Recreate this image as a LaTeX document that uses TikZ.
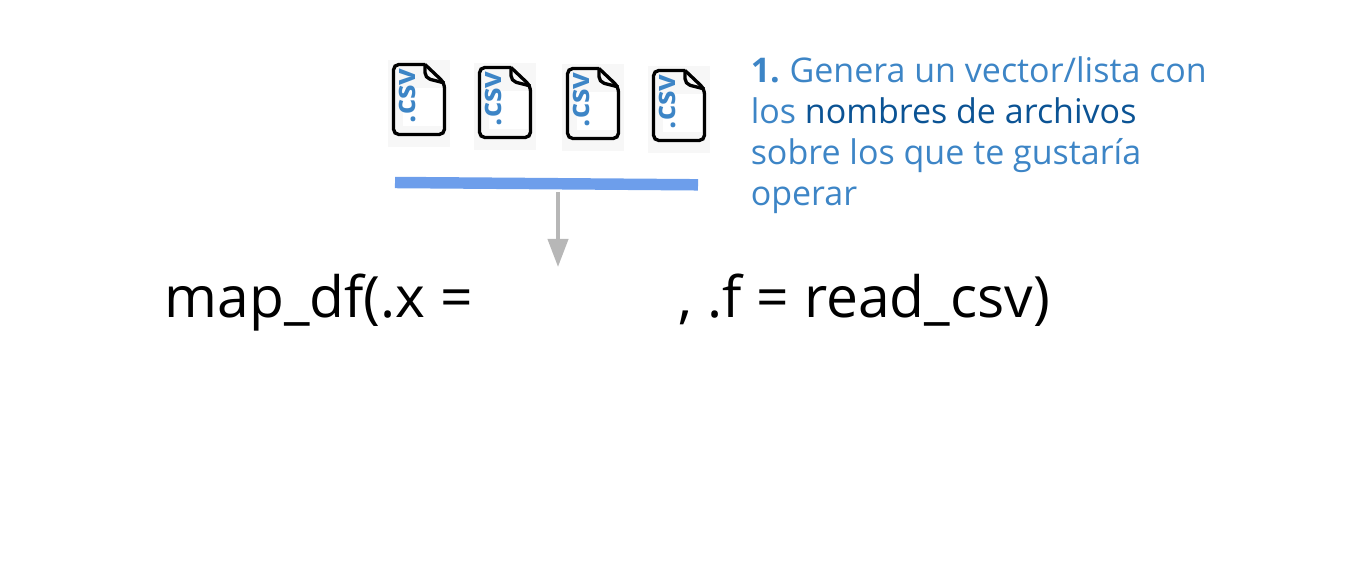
\documentclass[tikz,border=0pt]{standalone}
\usepackage{fontspec}
\setmainfont{Open Sans}
\usetikzlibrary{arrows.meta}
\definecolor{csvblue}{HTML}{3D85C6}
\definecolor{darkblue}{HTML}{0B5394}
\definecolor{barblue}{HTML}{6D9EEB}
\definecolor{arrowgray}{HTML}{B7B7B7}
\definecolor{iconbg}{HTML}{F7F7F7}
\tikzset{
  codetext/.style={anchor=base west, inner sep=0pt, font=\fontsize{42.7}{52}\selectfont},
  csvfile/.pic={
    \fill[iconbg] (0,0) rectangle (62,87);
    \fill[white] (15,28) rectangle (54,66);
    \node[anchor=base west, inner sep=0pt, rotate=90, text=csvblue, font=\bfseries\fontsize{22}{26}\selectfont] (-label) at (27,63.5) {.csv};
    \draw[line width=2.5pt, rounded corners=4pt] (37,4.5) -- (5.5,4.5) -- (5.5,74.5) -- (56.5,74.5) -- (56.5,23) -- (37,4.5);
    \draw[line width=2.5pt, rounded corners=4pt] (37,4.5) -- (37,18) -- (56.5,23);
  }
}
\begin{document}
\begin{tikzpicture}[x=0.75pt,y=-0.75pt]
  \useasboundingbox (0,0) rectangle (1358,584);
  \foreach \name/\xpos/\ypos in {csvA/388/60, csvB/474/63, csvC/562/64, csvD/648/66}
    \pic (\name) at (\xpos,\ypos) {csvfile};
  \coordinate (barleft) at (395,182.5);
  \coordinate (barright) at (698,184.8);
  \coordinate (stemtop) at (558,192);
  \coordinate (arrowtip) at (558,267);
  \draw[barblue, line width=8.6pt] (barleft) -- (barright);
  \draw[-{Triangle[width=15pt,length=21pt]}, arrowgray, line width=3pt] (stemtop) -- (arrowtip);
  \node[anchor=north west, inner sep=0pt, align=left, text=csvblue, font=\fontsize{25.5}{30.75}\selectfont] (note) at (750.5,56.5)
    {\textbf{1.}\kern-1.5pt{} Genera un vector/lista con\\los \textcolor{darkblue}{nombres de archivos}\\sobre los que te gustaría\\operar};
  \node[codetext] (mapcall) at (164.5,317) {map\_df(.x =};
  \node[codetext] (readcall) at (678.5,317) {, .f = read\_csv)};
\end{tikzpicture}
\end{document}
